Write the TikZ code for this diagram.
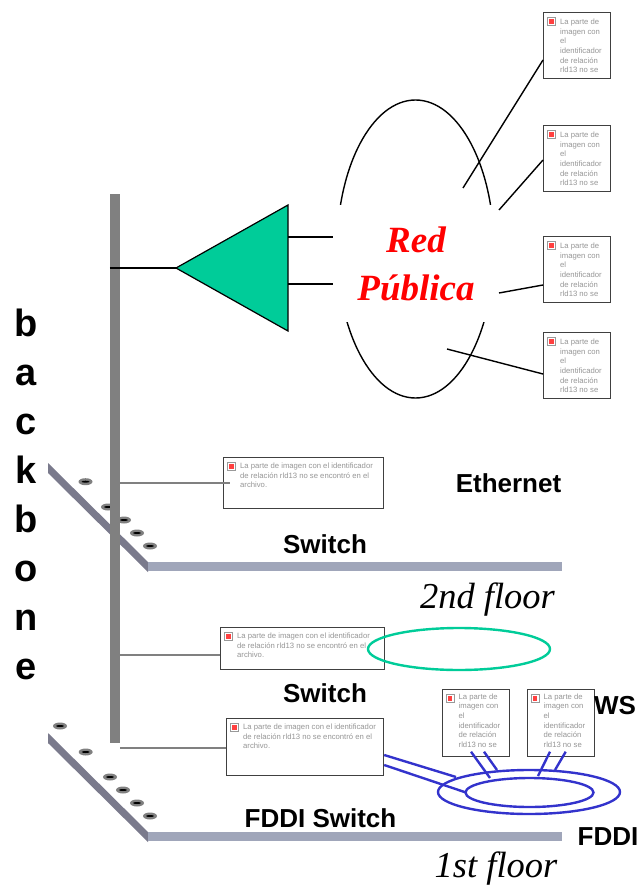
\documentclass[tikz,border=0pt]{standalone}
\usepackage{fontspec}
\setmainfont{Liberation Sans}
\newfontfamily\serifface{Liberation Serif}
\usetikzlibrary{shapes, shapes.geometric, arrows, positioning}
\definecolor{barGray}{RGB}{128, 128, 128}
\definecolor{plateGray}{RGB}{122, 122, 140}
\definecolor{floorBlue}{RGB}{160, 166, 186}
\definecolor{teal}{RGB}{0, 204, 153}
\definecolor{ringBlue}{RGB}{51, 51, 204}
\definecolor{capGray}{RGB}{150, 150, 150}

\tikzset{
    wire/.style={draw=black, line width=1.4pt},
    feed/.style={draw=barGray, line width=2pt},
    ringwire/.style={draw=ringBlue, line width=2.4pt},
    imgbox/.style={rectangle, draw=black!75, line width=1.2pt, fill=white, inner sep=0pt},
    imgicon/.style={rectangle, draw=black!40, fill=white, line width=1pt, minimum size=8pt, inner sep=0pt},
    imgdot/.style={rectangle, fill=red!75, minimum size=4.5pt, inner sep=0pt},
    imgtext/.style={inner sep=0pt, align=left, text=capGray, font=\fontsize{7.7}{9.6}\selectfont},
    biglabel/.style={inner sep=0pt, font=\fontsize{26}{30}\selectfont\bfseries},
    floorlabel/.style={inner sep=0pt, font=\fontsize{36.5}{40}\selectfont\serifface\itshape},
    hole/.style={ellipse, fill=barGray, minimum width=14pt, minimum height=7pt, inner sep=0pt},
    slot/.style={ellipse, fill=black, minimum width=8pt, minimum height=2pt, inner sep=0pt}
}

\begin{document}
\begin{tikzpicture}[x=1pt, y=-1pt]
    \useasboundingbox (0,0) rectangle (639,888);

    % floors
    \fill[plateGray] (48,463) -- (148,562) -- (148,572) -- (48,473) -- cycle;
    \fill[plateGray] (48,733) -- (148,832) -- (148,842) -- (48,743) -- cycle;
    \node [rectangle, fill=floorBlue, minimum width=414pt, minimum height=9pt, inner sep=0pt] (floorb) at (355,566.5) {};
    \node [rectangle, fill=floorBlue, minimum width=414pt, minimum height=9pt, inner sep=0pt] (floora) at (355,836.5) {};
    \foreach \x/\y [count=\i] in {85.5/481.7, 108/507, 124/520, 137/533, 150/546, 60/726, 85.7/752, 110/777, 123/790, 137/803, 150/816} {
        \node [hole] (hole\i) at (\x,\y) {};
        \node [slot] (slot\i) at (\x,\y) {};
    }

    % backbone
    \node [rectangle, fill=barGray, minimum width=10pt, minimum height=549pt, inner sep=0pt] (bar) at (115,468.5) {};
    \node [inner sep=0pt, align=center, font=\fontsize{38}{49}\selectfont\bfseries] (spine) at (26,494) {b\\a\\c\\k\\b\\o\\n\\e};

    % router and public network
    \node [isosceles triangle, isosceles triangle stretches, shape border rotate=180, draw=black, fill=teal, line width=1.2pt, outer sep=0pt, minimum width=126pt, minimum height=112pt, inner sep=0pt, anchor=apex] (router) at (176,268) {};
    \draw [wire] (bar.west |- router.apex) -- (router.apex);
    \node [ellipse, draw=black, line width=1.4pt, minimum width=157pt, minimum height=298pt, inner sep=0pt] (cloud) at (415.5,249) {};
    \node [rectangle, fill=white, minimum width=166pt, minimum height=117pt, inner sep=0pt, align=center, text=red, font=\fontsize{37}{48}\selectfont\serifface\bfseries\itshape] (redpub) at (416,263.5) {Red\\Pública};
    \coordinate (routerA) at (288,237);
    \coordinate (routerB) at (288,284);
    \draw [wire] (routerA) -- (redpub.west |- routerA);
    \draw [wire] (routerB) -- (redpub.west |- routerB);

    % hosts on the public network
    \foreach \name/\y in {hosta/12, hostb/125, hostc/236, hostd/332} {
        \node [imgbox, anchor=north west, minimum width=67pt, minimum height=66pt] (\name) at (543,\y) {};
        \node [imgicon, below right=5pt and 4pt of \name.north west] (\name icon) {};
        \node [imgdot] (\name dot) at (\name icon) {};
        \node [imgtext, below right=7pt and 17pt of \name.north west] (\name text) {La parte de\\imagen con\\el\\identificador\\de relación\\rld13 no se};
    }
    \coordinate (pubA) at (463,188);
    \coordinate (pubB) at (499,210);
    \coordinate (pubC) at (499,293);
    \coordinate (pubD) at (447,349);
    \draw [wire] (pubA) -- (hosta.west |- 0,60);
    \draw [wire] (pubB) -- (hostb.west |- 0,160);
    \draw [wire] (pubC) -- (hostc.west |- 0,285);
    \draw [wire] (pubD) -- (hostd.west |- 0,374);

    % switches
    \foreach \name/\x/\y/\w/\h in {swb/223/457/160/51, swe/220/627/164/42, swa/226/718/157/57} {
        \node [imgbox, anchor=north west, minimum width=\w pt, minimum height=\h pt] (\name) at (\x,\y) {};
        \node [imgicon, below right=5pt and 4pt of \name.north west] (\name icon) {};
        \node [imgdot] (\name dot) at (\name icon) {};
        \node [imgtext, below right=6pt and 17pt of \name.north west] (\name text) {La parte de imagen con el identificador\\de relación rld13 no se encontró en el\\archivo.};
    }
    \draw [feed] (bar.east |- 0,483) -- ([xshift=7pt]swb.west |- 0,483);
    \draw [feed] (bar.east |- 0,655) -- (swe.west |- 0,655);
    \draw [feed] (bar.east |- 0,748) -- (swa.west |- 0,748);

    \node [ellipse, draw=teal, line width=2.4pt, minimum width=182pt, minimum height=42pt, inner sep=0pt] (ether) at (459,649) {};

    % FDDI ring
    \foreach \name/\x in {wsa/441.5, wsb/526.5} {
        \node [imgbox, anchor=north west, minimum width=67.5pt, minimum height=66.5pt] (\name) at (\x,689) {};
        \node [imgicon, below right=5pt and 4pt of \name.north west] (\name icon) {};
        \node [imgdot] (\name dot) at (\name icon) {};
        \node [imgtext, below right=4.5pt and 17pt of \name.north west] (\name text) {La parte de\\imagen con\\el\\identificador\\de relación\\rld13 no se};
    }
    \node [ellipse, draw=ringBlue, line width=2.4pt, minimum width=182pt, minimum height=44pt, inner sep=0pt] (ringouter) at (529,792) {};
    \node [ellipse, draw=ringBlue, line width=2.4pt, minimum width=128pt, minimum height=29pt, inner sep=0pt] (ringinner) at (529.5,792.5) {};
    \coordinate (tapA) at (456,777);
    \coordinate (tapB) at (466,792.5);
    \coordinate (tapC) at (490,778);
    \coordinate (tapD) at (497,770);
    \coordinate (tapE) at (538,776);
    \coordinate (tapF) at (555,770);
    \draw [ringwire] (swa.east |- 0,755) -- (tapA);
    \draw [ringwire] (swa.east |- 0,765) -- (tapB);
    \draw [ringwire] (471,751.7) -- (tapC);
    \draw [ringwire] (484,751.7) -- (tapD);
    \draw [ringwire] (550,751.7) -- (tapE);
    \draw [ringwire] (565.7,751.7) -- (tapF);

    % labels
    \node [biglabel] (lblether) at (508.5,483) {Ethernet};
    \node [biglabel] (lblswb) at (325,544) {Switch};
    \node [biglabel] (lblswa) at (325,693) {Switch};
    \node [biglabel] (lblfddisw) at (320.5,818) {FDDI Switch};
    \node [biglabel] (lblws) at (615,706) {WS};
    \node [biglabel] (lblfddi) at (608,837) {FDDI};
    \node [floorlabel] (lblsecond) at (487.5,600) {2nd floor};
    \node [floorlabel] (lblfirst) at (496,869) {1st floor};
\end{tikzpicture}
\end{document}
